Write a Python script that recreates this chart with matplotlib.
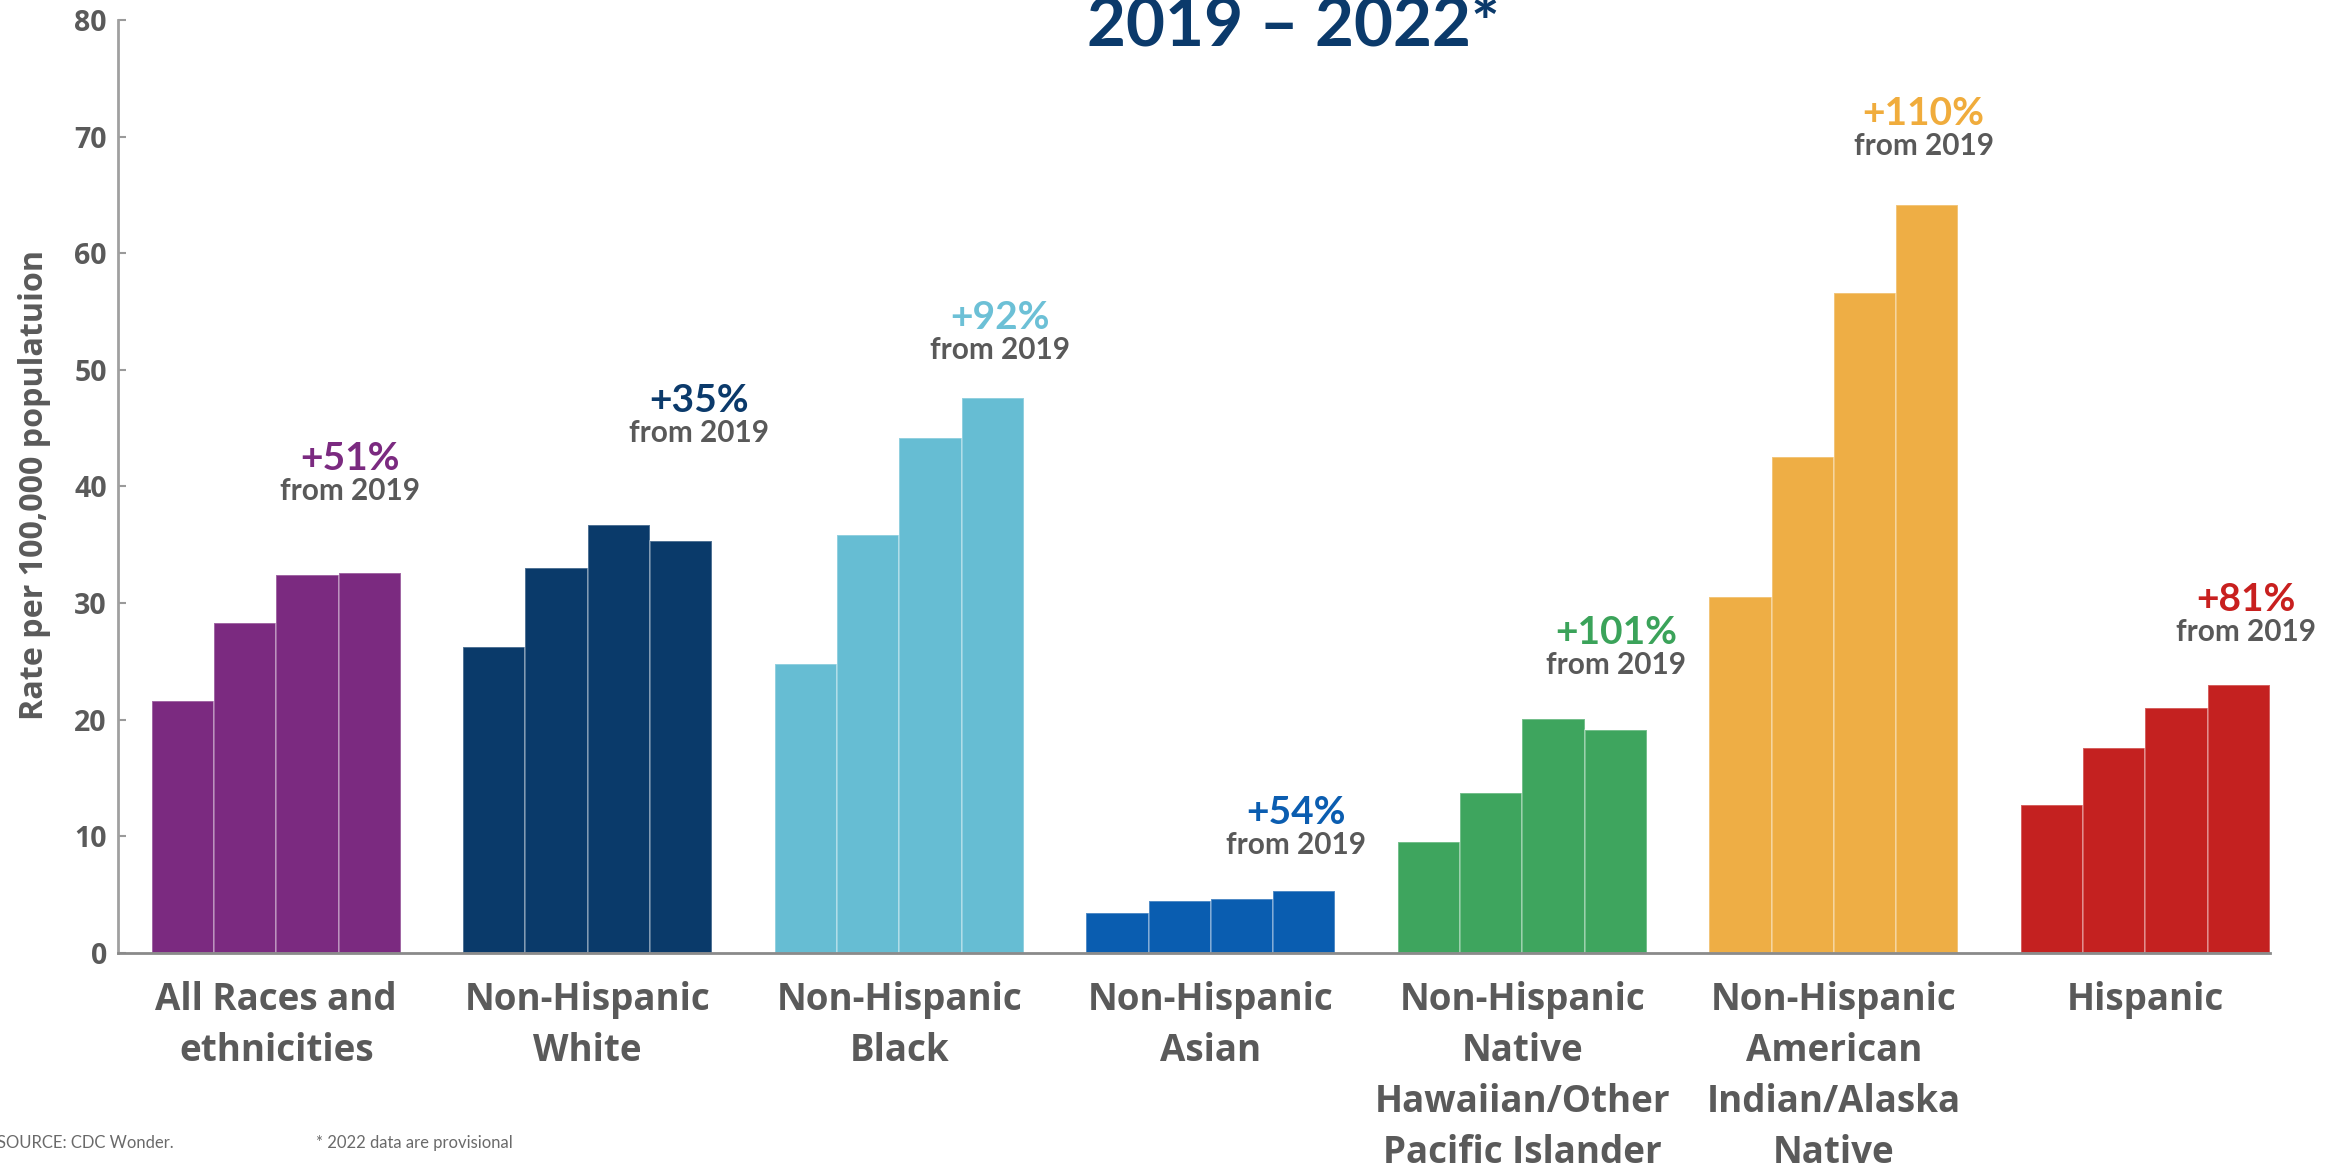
import numpy as np
import matplotlib
matplotlib.use("Agg")
import matplotlib.pyplot as plt

# overdose death rates per 100,000, years 2019, 2020, 2021, 2022
groups = ["All Races and\nethnicities", "Non-Hispanic\nWhite", "Non-Hispanic\nBlack",
          "Non-Hispanic\nAsian", "Non-Hispanic\nNative\nHawaiian/Other\nPacific Islander",
          "Non-Hispanic\nAmerican\nIndian/Alaska\nNative", "Hispanic"]
all_races = [21.6, 28.3, 32.4, 32.6]
nh_white = [26.2, 33.0, 36.7, 35.3]
nh_black = [24.8, 35.8, 44.2, 47.6]
nh_asian = [3.4, 4.5, 4.6, 5.3]
nh_nhpi = [9.5, 13.7, 20.1, 19.1]
nh_aian = [30.5, 42.5, 56.6, 64.1]
hispanic = [12.7, 17.6, 21.0, 23.0]
changes = ["+51%", "+35%", "+92%", "+54%", "+101%", "+110%", "+81%"]

series = [all_races, nh_white, nh_black, nh_asian, nh_nhpi, nh_aian, hispanic]
bar_colors = ["#7B2A80", "#0A3A6A", "#66BDD3", "#0A5DB0", "#3EA55E", "#EEAE45", "#C42120"]
label_colors = ["#7B2A80", "#0B3A6B", "#6CC0D6", "#0B5DB0", "#3BA35A", "#F0AC3C", "#C8201F"]

# where the "+x% from 2019" notes sit (bar units from group start, data y of baseline)
note_dx = [3.19, 3.79, 3.62, 3.37, 3.51, 3.44, 3.62]
note_y = [41.4, 46.4, 53.5, 11.1, 26.5, 71.0, 29.3]

W, H = 2338, 1163
fig = plt.figure(figsize=(W / 100, H / 100), dpi=100)
ax = fig.add_axes([118 / W, 1 - 953 / H, 2152 / W, 933 / H])

for g, vals in enumerate(series):
    xs = 5 * g + np.arange(4) + 0.5
    ax.bar(xs, vals, width=1.0, color=bar_colors[g],
           edgecolor=(1, 1, 1, 0.35), linewidth=1.2, zorder=2)
    ax.annotate(changes[g], (5 * g + note_dx[g], note_y[g]), ha="center", va="baseline",
                fontsize=28, fontweight="bold", family="Lato", color=label_colors[g])
    ax.annotate("from 2019", (5 * g + note_dx[g], note_y[g]), xytext=(0, -21.6),
                textcoords="offset points", ha="center", va="baseline",
                fontsize=21.4, fontweight="bold", family="Lato", color="#595959")

ax.set_xlim(-0.54, 34.0)
ax.set_ylim(0, 80)
ax.set_yticks(range(0, 81, 10))
ax.set_xticks([5 * g + 2 for g in range(len(groups))])
ax.set_xticklabels(groups, fontsize=26.5, fontweight="bold", family="Open Sans",
                   color="#5a5a5a", linespacing=1.45)
ax.tick_params(axis="x", length=0, pad=20)
ax.tick_params(axis="y", direction="in", length=6, width=1.5, color="#9a9a9a", pad=8,
               labelsize=20.5)
for t in ax.get_yticklabels():
    t.set_fontweight("bold")
    t.set_family("Open Sans")
    t.set_color("#5a5a5a")

for s in ["top", "right"]:
    ax.spines[s].set_visible(False)
ax.spines["left"].set_color("#a0a0a0")
ax.spines["left"].set_linewidth(2)
ax.spines["bottom"].set_color("#8a8a8a")
ax.spines["bottom"].set_linewidth(2)
ax.spines["bottom"].set_zorder(3)

fig.text(35 / W, 1 - 485 / H, "Rate per 100,000 populatuion", rotation=90, ha="center",
         va="center", fontsize=23.2, fontweight="bold", family="Open Sans", color="#5a5a5a")

fig.text(1293 / W, 1 - 45 / H, "2019 \u2013 2022*", ha="center", va="baseline",
         fontsize=48.5, fontweight="bold", family="Lato", color="#0B3A6B")

fig.text(-3 / W, 1 - 1148 / H, "SOURCE: CDC Wonder.", ha="left", va="baseline",
         fontsize=12, family="Lato", color="#6a6a6a")
fig.text(316 / W, 1 - 1148 / H, "* 2022 data are provisional", ha="left", va="baseline",
         fontsize=12, family="Lato", color="#6a6a6a")

fig.savefig("out.png", dpi=100)
